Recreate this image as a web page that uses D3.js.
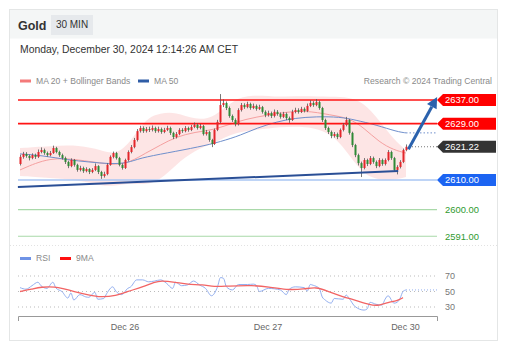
<!DOCTYPE html>
<html><head><meta charset="utf-8">
<script src="https://cdn.jsdelivr.net/npm/d3@7"></script>
<style>body{margin:0;background:#fff;} svg{display:block;font-family:"Liberation Sans",Arial,sans-serif;}</style>
</head><body><svg id="c" width="512" height="355"></svg>
<script>
const title = "Gold", timeframe = "30 MIN";
const dateText = "Monday, December 30, 2024 12:14:26 AM CET";
const legendTop = [{label:"MA 20 + Bollinger Bands", color:"#f47a7a"}, {label:"MA 50", color:"#2f5da6"}];
const credit = "Research \u00a9 2024 Trading Central";
// [open, high, low, close]
const candles = [
[2615.4,2618.5,2614.9,2617.8],[2617.8,2619.5,2617.2,2618.8],[2618.8,2619.4,2617.5,2618.1],[2618.1,2618.6,2616.6,2617.4],
[2617.4,2619.0,2617.0,2618.4],[2618.4,2618.9,2617.1,2617.8],[2617.8,2620.3,2617.4,2619.45],[2619.45,2621.0,2619.0,2620.1],
[2620.1,2620.6,2618.5,2619.1],[2619.1,2619.6,2617.9,2618.4],[2618.4,2619.8,2618.0,2619.1],[2619.1,2621.6,2618.8,2620.8],
[2620.8,2621.2,2619.0,2619.45],[2619.45,2619.9,2617.8,2618.4],[2618.4,2618.9,2616.9,2617.4],[2617.4,2617.9,2615.4,2616.1],
[2616.1,2616.5,2614.0,2614.7],[2614.7,2617.3,2614.3,2616.75],[2616.75,2617.1,2614.5,2615.1],[2615.1,2615.5,2612.8,2613.4],
[2613.4,2614.8,2612.9,2614.05],[2614.05,2614.5,2612.4,2613.0],[2613.0,2614.3,2612.6,2613.7],[2613.7,2614.0,2612.0,2612.7],
[2612.7,2614.0,2612.3,2613.4],[2613.4,2615.6,2613.0,2614.7],[2614.7,2615.0,2612.0,2612.7],[2612.7,2613.1,2610.4,2611.35],
[2611.35,2612.8,2610.8,2612.0],[2612.0,2615.7,2611.6,2615.1],[2615.1,2618.3,2614.8,2617.8],[2617.8,2619.6,2617.3,2619.1],
[2619.1,2619.5,2616.9,2617.4],[2617.4,2617.8,2614.6,2615.1],[2615.1,2615.6,2613.5,2614.05],[2614.05,2617.2,2613.7,2616.75],
[2616.75,2620.0,2616.3,2619.45],[2619.45,2621.8,2619.0,2621.1],[2621.1,2624.2,2620.7,2623.5],[2623.5,2627.2,2623.0,2626.5],
[2626.5,2628.3,2626.0,2627.55],[2627.55,2628.1,2625.9,2626.5],[2626.5,2627.9,2626.0,2627.2],[2627.2,2628.0,2626.2,2626.9],
[2626.9,2628.4,2626.4,2627.55],[2627.55,2628.0,2625.9,2626.5],[2626.5,2628.0,2626.0,2627.2],[2627.2,2627.7,2625.6,2626.2],
[2626.2,2627.6,2625.8,2626.9],[2626.9,2628.3,2626.5,2627.55],[2627.55,2628.0,2625.2,2625.9],[2625.9,2626.3,2623.8,2624.5],
[2624.5,2626.2,2624.0,2625.5],[2625.5,2627.5,2625.1,2626.9],[2626.9,2627.5,2625.9,2626.5],[2626.5,2628.2,2626.1,2627.55],
[2627.55,2628.0,2626.3,2626.9],[2626.9,2628.6,2626.5,2627.9],[2627.9,2629.4,2627.5,2628.6],[2628.6,2629.1,2627.0,2627.55],
[2627.55,2628.9,2627.1,2628.2],[2628.2,2628.6,2625.0,2625.5],[2625.5,2626.9,2625.0,2626.2],[2626.2,2626.6,2622.9,2623.5],
[2623.5,2623.9,2621.1,2622.15],[2622.15,2627.4,2621.8,2626.9],[2626.9,2630.3,2626.5,2629.6],[2629.6,2639.0,2629.2,2635.3],
[2635.3,2637.2,2634.6,2636.0],[2636.0,2636.5,2633.6,2634.3],[2634.3,2634.8,2631.0,2631.6],[2631.6,2632.1,2629.6,2630.25],
[2630.25,2630.8,2628.1,2628.9],[2628.9,2634.2,2628.4,2633.6],[2633.6,2636.0,2633.1,2635.3],[2635.3,2635.9,2634.0,2634.6],
[2634.6,2636.4,2634.2,2635.65],[2635.65,2636.1,2633.7,2634.3],[2634.3,2635.8,2633.9,2635.0],[2635.0,2635.5,2633.4,2634.0],
[2634.0,2635.4,2633.6,2634.6],[2634.6,2635.0,2632.4,2633.0],[2633.0,2633.5,2631.2,2631.9],[2631.9,2633.4,2631.4,2632.6],
[2632.6,2633.1,2630.9,2631.6],[2631.6,2633.8,2631.1,2633.0],[2633.0,2633.6,2631.7,2632.3],[2632.3,2632.8,2630.7,2631.3],
[2631.3,2633.0,2630.9,2632.3],[2632.3,2632.8,2630.2,2630.9],[2630.9,2631.4,2629.3,2630.25],[2630.25,2633.7,2629.9,2633.0],
[2633.0,2634.4,2632.5,2633.6],[2633.6,2634.2,2632.4,2633.0],[2633.0,2634.7,2632.6,2634.0],[2634.0,2634.5,2632.8,2633.3],
[2633.3,2635.8,2632.9,2635.0],[2635.0,2636.9,2634.6,2636.0],[2636.0,2636.6,2634.7,2635.3],[2635.3,2637.3,2634.9,2636.3],
[2636.3,2636.8,2633.7,2634.3],[2634.3,2634.7,2629.6,2630.25],[2630.25,2630.7,2626.9,2627.55],[2627.55,2628.0,2625.5,2626.2],
[2626.2,2626.7,2624.1,2624.85],[2624.85,2626.2,2624.3,2625.5],[2625.5,2626.0,2623.8,2624.5],[2624.5,2627.4,2624.1,2626.9],
[2626.9,2629.2,2626.4,2628.6],[2628.6,2631.3,2628.1,2630.25],[2630.25,2630.6,2625.3,2625.9],[2625.9,2626.3,2621.1,2621.8],
[2621.8,2622.2,2617.7,2618.4],[2618.4,2618.9,2614.9,2615.7],[2615.7,2616.2,2611.0,2614.05],[2614.05,2617.4,2613.6,2616.75],
[2616.75,2617.2,2614.7,2615.4],[2615.4,2618.1,2615.0,2617.4],[2617.4,2617.9,2615.5,2616.1],[2616.1,2616.6,2614.0,2614.7],
[2614.7,2617.4,2614.3,2616.75],[2616.75,2617.2,2614.8,2615.4],[2615.4,2617.3,2614.9,2616.75],[2616.75,2620.1,2616.3,2619.45],
[2619.45,2619.9,2616.8,2617.4],[2617.4,2617.8,2612.8,2613.4],[2613.4,2615.0,2611.9,2614.4],[2614.4,2616.7,2613.9,2616.1],
[2616.1,2620.6,2615.7,2620.1],[2620.1,2622.0,2619.7,2621.22]
];
const bandIdx   = [0,10,20,27,32,37,42,47,52,58.5,65,72,79,87,95,104,110,115,120,125,129];
const bandUpper = [2620.8,2621.5,2621.8,2620.1,2618.4,2622.8,2630.9,2632.6,2633.0,2630.25,2630.9,2638.0,2638.7,2638.0,2638.35,2638.0,2638.0,2636.0,2630.25,2623.5,2620.1];
const bandLower = [2611.35,2610.7,2610.0,2608.0,2608.0,2609.0,2608.3,2610.0,2615.1,2620.1,2622.5,2626.2,2626.9,2627.9,2628.2,2626.2,2618.4,2611.7,2610.0,2610.0,2611.0];
const ma20      = [2613.4,2617.8,2616.75,2615.7,2615.1,2616.1,2619.1,2621.8,2624.5,2626.2,2626.9,2629.6,2631.3,2632.6,2633.6,2631.9,2630.9,2627.55,2622.8,2620.1,2619.1];
const ma50Idx   = [0,8,16,23,30,36,40,49,60,67,74,79,86,92,99,107,112,119,126,129];
const ma50      = [2618.8,2618.2,2616.75,2616.1,2615.4,2615.7,2617.4,2619.1,2621.2,2622.9,2625.2,2627.5,2629.7,2630.9,2631.4,2631.3,2630.25,2628.6,2626.3,2625.9];
const trendline = [[-0.7,2607.6],[126.4,2613.0]];
const levels = [
  {v:2637, label:"2637.00", kind:"res"},
  {v:2629, label:"2629.00", kind:"res"},
  {v:2621.22, label:"2621.22", kind:"last"},
  {v:2610, label:"2610.00", kind:"sup"},
  {v:2600, label:"2600.00", kind:"tgt"},
  {v:2591, label:"2591.00", kind:"tgt"}
];
const arrowPath = [[129.8,2620.4],[139.4,2638.0]];
const rsi = [[0,55],[2,53],[4,57.5],[6,62],[7,57.5],[9,54],[11,62],[12,54.5],[14,50],[16,41.5],[17,48],[18,39],[20,46],[22,43],[23,42.5],[25,49],[26,40],[28,41],[29,47.5],[31,56],[32,50.5],[34,46],[36,54],[37,56],[39,65],[41,65],[43,62.5],[45,63.5],[47,65],[49,60.5],[51,54],[52,62],[54,57.5],[56,58.5],[58,63.5],[60,58.5],[62,54],[64,44.5],[66,56],[67,68],[68,67],[69,56],[71,52],[73,59],[76,59],[78,59.5],[79,58],[80,50],[83,54],[87,52],[89,46],[90,53],[92,56],[95,55],[96,50.5],[97,59],[98,58],[100,54],[101,43],[102,39],[104,35],[105,41],[108,40],[109,45.5],[110,41],[112,30.5],[115,26],[116,27.5],[117,36],[119,33.5],[121,32.5],[122,40],[123,44.5],[125,35],[126,36],[127,41],[128,50],[129,52]];
const rsiMA = [[0,50],[4,53],[7,56],[12,56],[14,54],[18,50],[23,45.5],[27,42.5],[32,44.5],[36,50],[41,56],[45,62],[47,64],[52,62],[56,59],[61,59],[65,56],[69,57],[78,58],[83,56],[89,52],[95,53],[99,56],[103,50],[108,43],[112,39],[117,32.5],[120,31.7],[123,36],[126,38],[128,42]];
const rsiTicks = [70,50,30];
const legendRsi = [{label:"RSI", color:"#6f93e6"}, {label:"9MA", color:"#ff1010"}];
const xTicks = [{i:35.1,label:"Dec 26"},{i:82.9,label:"Dec 27"},{i:128.8,label:"Dec 30"}];

const svg = d3.select("#c");
const L = 18, R = 437;
const x = d3.scaleLinear().domain([0, candles.length-1]).range([20, 406]);
const y = d3.scaleLinear().domain([2591, 2637]).range([236.3, 100]);
const yr = d3.scaleLinear().domain([30, 70]).range([307, 276]);

// card
svg.append("rect").attr("x",9.5).attr("y",9.5).attr("width",488).attr("height",29).attr("fill","#f4f6f6");
svg.append("rect").attr("x",9.5).attr("y",9.5).attr("width",488).attr("height",331).attr("fill","none").attr("stroke","#e4e6e6");
svg.append("text").attr("x",18).attr("y",29.5).attr("font-size",12.5).attr("font-weight","bold").attr("fill","#333").text(title);
svg.append("rect").attr("x",51).attr("y",15).attr("width",42).attr("height",20).attr("fill","#e6e9ec");
svg.append("text").attr("x",72).attr("y",28).attr("text-anchor","middle").attr("font-size",10).attr("fill","#333").text(timeframe);
svg.append("text").attr("x",20).attr("y",53.3).attr("font-size",10.4).attr("fill","#333").text(dateText);

// legend
legendTop.forEach((d,k)=>{
  const gx = k===0 ? 20 : 138;
  svg.append("rect").attr("x",gx).attr("y",79.5).attr("width",11).attr("height",3).attr("fill",d.color);
  svg.append("text").attr("x",gx+16).attr("y",83.5).attr("font-size",8.6).attr("fill","#8a8a8a").text(d.label);
});
svg.append("text").attr("x",492).attr("y",83.5).attr("text-anchor","end").attr("font-size",8.6).attr("fill","#8a8a8a").text(credit);

// bollinger band
const bandData = bandIdx.map((i,k)=>({i, u:bandUpper[k], l:bandLower[k], m:ma20[k]}));
svg.append("path").datum(bandData)
  .attr("d", d3.area().x(d=>x(d.i)).y0(d=>y(d.l)).y1(d=>y(d.u)).curve(d3.curveBasis))
  .attr("fill","#fde2e2").attr("opacity",0.9);
svg.append("path").datum(bandData)
  .attr("d", d3.line().x(d=>x(d.i)).y(d=>y(d.m)).curve(d3.curveBasis))
  .attr("fill","none").attr("stroke","#f5a0a0").attr("stroke-width",1);
const ma50Data = ma50Idx.map((i,k)=>({i, v:ma50[k]}));
svg.append("path").datum(ma50Data)
  .attr("d", d3.line().x(d=>x(d.i)).y(d=>y(d.v)).curve(d3.curveBasis))
  .attr("fill","none").attr("stroke","#6f8fcc").attr("stroke-width",1);
const lastMa = ma50Data[ma50Data.length-1];
svg.append("line").attr("x1",x(lastMa.i)).attr("x2",R).attr("y1",y(lastMa.v)).attr("y2",y(lastMa.v))
  .attr("stroke","#6f8fcc").attr("stroke-dasharray","1.5,2");

// level lines
const lvlColor = {res:"#ff1414", last:"#333", sup:"#a9c6f3", tgt:"#a9d9a9"};
levels.forEach(d=>{
  if (d.kind==="last") return;
  svg.append("line").attr("x1",L).attr("x2",R).attr("y1",y(d.v)).attr("y2",y(d.v))
    .attr("stroke",lvlColor[d.kind]).attr("stroke-width", d.kind==="res"?1.7:(d.kind==="sup"?1.6:1.1));
});

// candles
const g = svg.append("g");
candles.forEach((c,i)=>{
  const [o,h,l,cl] = c;
  const up = cl >= o;
  const col = up ? "#e3262b" : "#2f8a36";
  const cx = Math.round(x(i)) + 0.5;
  g.append("line").attr("x1",cx).attr("x2",cx).attr("y1",y(h)).attr("y2",y(l)).attr("stroke","#555").attr("stroke-width",0.8);
  const top = y(Math.max(o,cl)), bot = y(Math.min(o,cl));
  g.append("rect").attr("x",cx-1).attr("y",top).attr("width",2).attr("height",Math.max(1,bot-top)).attr("fill",col);
});

// last price dotted
const lastC = candles[candles.length-1][3];
svg.append("line").attr("x1",x(candles.length-1)+3).attr("x2",R).attr("y1",y(lastC)).attr("y2",y(lastC))
  .attr("stroke","#777").attr("stroke-dasharray","1,2");

// trendline
svg.append("line").attr("x1",x(trendline[0][0])).attr("y1",y(trendline[0][1]))
  .attr("x2",x(trendline[1][0])).attr("y2",y(trendline[1][1]))
  .attr("stroke","#2a4f96").attr("stroke-width",2);

// arrow
const ax1 = x(arrowPath[0][0]), ay1 = y(arrowPath[0][1]);
const ax2 = x(arrowPath[1][0]), ay2 = y(arrowPath[1][1]);
const ang = Math.atan2(ay2-ay1, ax2-ax1);
const hl = 11, hw = 5.5;
const bx = ax2 - hl*Math.cos(ang), by = ay2 - hl*Math.sin(ang);
svg.append("line").attr("x1",ax1).attr("y1",ay1).attr("x2",bx).attr("y2",by)
  .attr("stroke","#2b62ad").attr("stroke-width",3);
svg.append("path").attr("d",`M${ax2},${ay2}L${bx+hw*Math.sin(ang)},${by-hw*Math.cos(ang)}L${bx-hw*Math.sin(ang)},${by+hw*Math.cos(ang)}Z`)
  .attr("fill","#2b62ad");

// labels
const tagFill = {res:"#ff0000", last:"#333333", sup:"#1c64f2"};
levels.forEach(d=>{
  const cy = y(d.v);
  if (d.kind==="tgt") {
    svg.append("text").attr("x",445).attr("y",cy+3.3).attr("font-size",9.4).attr("fill","#2f9a2f").text(d.label);
    return;
  }
  svg.append("path").attr("d",`M437,${cy}L443,${cy-6}L496,${cy-6}L496,${cy+6}L443,${cy+6}Z`).attr("fill",tagFill[d.kind]);
  svg.append("text").attr("x",445).attr("y",cy+3.4).attr("font-size",9.4).attr("fill","#fff").text(d.label);
});

// separator
svg.append("line").attr("x1",10).attr("x2",497).attr("y1",245.5).attr("y2",245.5).attr("stroke","#e2e2e2").attr("stroke-dasharray","1,2");

// RSI legend
legendRsi.forEach((d,k)=>{
  const gx = k===0 ? 20 : 60;
  svg.append("rect").attr("x",gx).attr("y",257).attr("width",11).attr("height",3).attr("fill",d.color);
  svg.append("text").attr("x",gx+16).attr("y",261).attr("font-size",8.6).attr("fill","#8a8a8a").text(d.label);
});

// RSI grid
rsiTicks.forEach(t=>{
  svg.append("line").attr("x1",L).attr("x2",R).attr("y1",yr(t)).attr("y2",yr(t))
    .attr("stroke","#bbb").attr("stroke-dasharray","1,3");
  svg.append("text").attr("x",445).attr("y",yr(t)+3.2).attr("font-size",9).attr("fill","#777").text(t);
});
svg.append("path").datum(rsi)
  .attr("d", d3.line().x(d=>x(d[0])).y(d=>yr(d[1])).curve(d3.curveMonotoneX))
  .attr("fill","none").attr("stroke","#93aff0").attr("stroke-width",1);
const lastR = rsi[rsi.length-1];
svg.append("line").attr("x1",x(lastR[0])).attr("x2",R).attr("y1",yr(lastR[1])).attr("y2",yr(lastR[1]))
  .attr("stroke","#93aff0").attr("stroke-dasharray","1,2");
svg.append("path").datum(rsiMA)
  .attr("d", d3.line().x(d=>x(d[0])).y(d=>yr(d[1])).curve(d3.curveBasis))
  .attr("fill","none").attr("stroke","#f26464").attr("stroke-width",1.3);

// x axis
const xa = svg.append("g");
xa.append("path").attr("d",`M${L+0.5},321V316.5H${R+0.5}V321`).attr("fill","none").attr("stroke","#999");
xTicks.forEach(t=>{
  xa.append("text").attr("x",x(t.i)).attr("y",330).attr("text-anchor","middle").attr("font-size",9).attr("fill","#666").text(t.label);
});
</script></body></html>
